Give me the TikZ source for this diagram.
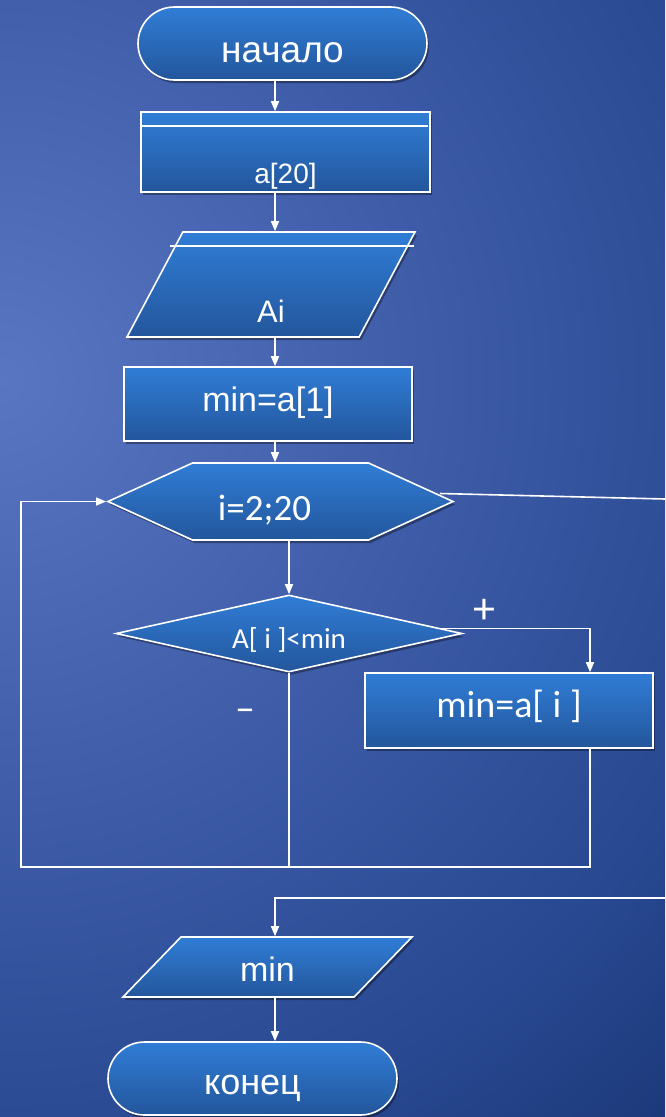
\documentclass[tikz,border=0pt]{standalone}
\usepackage{fontspec}
\setmainfont{Liberation Sans}
\newfontfamily\calibri{Carlito}
\usetikzlibrary{arrows.meta, shapes.geometric, shapes.misc, shapes.symbols, shadows, calc}

\definecolor{bginner}{RGB}{88,118,194}
\definecolor{bgnear}{RGB}{62,92,168}
\definecolor{bgfar}{RGB}{40,72,145}
\definecolor{bgouter}{RGB}{18,46,104}
\definecolor{boxtop}{RGB}{48,125,214}
\definecolor{boxbottom}{RGB}{35,86,156}
\pgfdeclareradialshading{backdrop}{\pgfpoint{0bp}{0bp}}{color(0bp)=(bginner); color(14bp)=(bgnear); color(26bp)=(bgfar); color(38bp)=(bgouter); color(50bp)=(bgouter)}

\tikzset{
	blk/.style={draw=white, line width=1.6pt, top color=boxtop, bottom color=boxbottom,
		text=white, inner sep=0pt,
		drop shadow={shadow xshift=2pt, shadow yshift=-3pt, opacity=0.35, fill=black}},
	flow/.style={draw=white, line width=1.6pt, -{Triangle[length=10pt, width=8pt]}},
	wire/.style={draw=white, line width=1.6pt},
	lbl/.style={text=white, inner sep=0pt}
}

\begin{document}
\begin{tikzpicture}[x=1pt, y=-1pt]
	\useasboundingbox (0,0) rectangle (665,1117);
	\begin{scope}
		\clip (0,0) rectangle (665,1117);
		\shade [shading=backdrop] (-760,-380) rectangle (760,1140);
	\end{scope}
	\coordinate (T) at (275,0);
	\coordinate (P) at (590,628);
	\coordinate (J) at (21,867);
	\coordinate (E1) at (665,499);
	\coordinate (E2) at (665,898);
	\node (begin) [blk, rounded rectangle, minimum width=289pt, minimum height=73pt,
		font=\fontsize{37}{40}\selectfont, text height=37pt, text depth=0pt] at (282.5,43.5) {начало};
	\node (arr) [blk, rectangle, minimum width=289pt, minimum height=80pt,
		font=\fontsize{28}{30}\selectfont, text height=62pt, text depth=0pt] at (285.5,152) {a[20]};
	\node (inp) [blk, trapezium, trapezium left angle=62, trapezium right angle=118,
		trapezium stretches body, minimum width=288pt, minimum height=105pt,
		font=\fontsize{31}{34}\selectfont, text height=90pt, text depth=15pt] at (271,284.5) {Ai};
	\node (init) [blk, rectangle, minimum width=288pt, minimum height=74pt,
		font=\fontsize{34}{36}\selectfont, text height=14pt, text depth=0pt] at (268,404) {min=a[1]};
	\node (loop) [blk, signal, signal to=west and east, signal pointer angle=49,
		minimum width=345pt, minimum height=77pt,
		font=\calibri\fontsize{37}{40}\selectfont, text height=37pt, text depth=0pt] at (280.5,501.5) {\hspace*{-32pt}i=2;20};
	\node (cond) [blk, diamond, aspect=4.5, minimum width=346pt, minimum height=77pt,
		font=\calibri\fontsize{29}{31}\selectfont, text height=29pt, text depth=0pt] at (289,633.5) {A[ i ]<min};
	\node (upd) [blk, rectangle, minimum width=288pt, minimum height=75pt,
		font=\calibri\fontsize{38}{40}\selectfont, text height=13pt, text depth=0pt] at (509,710.5) {min=a[ i ]};
	\node (out) [blk, trapezium, trapezium left angle=46, trapezium right angle=134,
		trapezium stretches body, minimum width=289pt, minimum height=60pt,
		font=\fontsize{34}{36}\selectfont, text height=44pt, text depth=16pt] at (267.5,967) {min};
	\node (end) [blk, rounded rectangle, minimum width=289pt, minimum height=73pt,
		font=\fontsize{36}{38}\selectfont, text height=31pt, text depth=0pt] at (252.5,1078.5) {конец};
	% inner lines
	\draw [wire] ([yshift=-15pt]arr.north west) -- ([xshift=-3pt, yshift=-15pt]arr.north east);
	\draw [wire] ([xshift=-12pt, yshift=-15pt]inp.top left corner) -- ([xshift=-2pt, yshift=-15pt]inp.top right corner);
	% connectors
	\draw [flow] (begin.south -| T) -- (arr.north -| T);
	\draw [flow] (arr.south -| T) -- (inp.north -| T);
	\draw [flow] (inp.south -| T) -- (init.north -| T);
	\draw [flow] (init.south -| T) -- (loop.north -| T);
	\draw [flow] (loop.south -| cond) -- (cond.north);
	\draw [flow] ([xshift=-22pt, yshift=5pt]cond.east) -| (upd.north -| P);
	\draw [wire] (cond.south) -- (cond.south |- J);
	\draw [flow] (upd.south -| P) |- (J) |- (loop.west);
	\draw [wire] ([xshift=-15pt, yshift=8pt]loop.east) -- (E1);
	\draw [flow] (E2) -| (out.north -| T);
	\draw [flow] (out.south -| T) -- (end.north -| T);
	\node (yes) [lbl, font=\calibri\fontsize{44}{46}\selectfont] at (484,611) {+};
	\node (no) [lbl, font=\calibri\fontsize{40}{42}\selectfont] at (245,715) {–};
\end{tikzpicture}
\end{document}
